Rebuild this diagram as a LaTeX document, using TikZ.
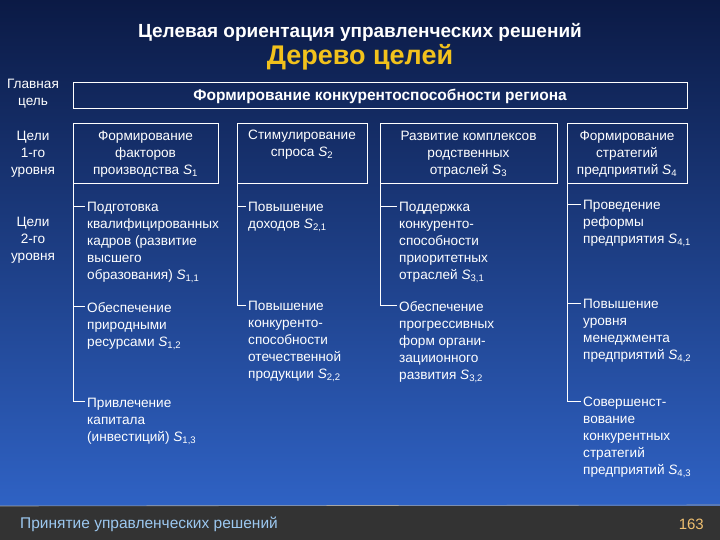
\documentclass[tikz,border=0pt]{standalone}
\usepackage{fontspec}
\setmainfont{Liberation Sans}
\definecolor{bgtop}{HTML}{0B1A45}
\definecolor{bgbot}{HTML}{2F62C4}
\definecolor{ttl}{HTML}{F2C21C}
\definecolor{foot}{HTML}{333333}
\definecolor{num}{HTML}{F0C070}
\definecolor{foottext}{HTML}{9CC8F0}
\newcommand{\Sv}[1]{\textit{S}\textsubscript{#1}}
\begin{document}
\begin{tikzpicture}[x=1pt,y=-1pt,
  every node/.style={text=white,font=\fontsize{13.6}{17}\selectfont,inner sep=0pt},
  box/.style={draw=white,line width=0.8pt},
  item/.style={anchor=north west,align=left,yshift=-4pt},
  lbl/.style={align=center},
  conn/.style={draw=white,line width=0.8pt}]
\useasboundingbox (0,0) rectangle (720,540);
\shade[top color=bgtop,bottom color=bgbot] (0,0) rectangle (720,506);
\fill[foot] (0,506) rectangle (720,540);
\draw[gray!70,line width=0.6pt] (0,506) -- (720,505);
\node (t1) at (360,32) {\fontsize{19}{22}\selectfont\bfseries Целевая ориентация управленческих решений};
\node[text=ttl] (t2) at (360,57) {\fontsize{27}{30}\selectfont\bfseries Дерево целей};
\node[lbl] (l0) at (33,94) {Главная\\цель};
\node[lbl] (l1) at (33,154) {Цели\\1-го\\уровня};
\node[lbl] (l2) at (33,240) {Цели\\2-го\\уровня};
\draw[box] (73,82) rectangle (687,108);
\node (main) at (380,96) {\fontsize{15.5}{18}\selectfont\bfseries Формирование конкурентоспособности региона};
\draw[box] (73,123) rectangle (218,183);
\draw[box] (237,123) rectangle (367,183);
\draw[box] (380,123) rectangle (557,183);
\draw[box] (567,123) rectangle (687,183);
\node[lbl] (s1) at (145.5,154) {Формирование\\факторов\\производства \Sv{1}};
\node[lbl] (s2) at (302,145) {Стимулирование\\спроса \Sv{2}};
\node[lbl] (s3) at (468.5,154) {Развитие комплексов\\родственных\\отраслей \Sv{3}};
\node[lbl] (s4) at (627,154) {Формирование\\стратегий\\предприятий \Sv{4}};
% col1
\coordinate (c1) at (73,183);
\node[item] (s11) at (87,198) {Подготовка\\квалифицированных\\кадров (развитие\\высшего\\образования) \Sv{1,1}};
\node[item] (s12) at (87,298) {Обеспечение\\природными\\ресурсами \Sv{1,2}};
\node[item] (s13) at (87,394) {Привлечение\\капитала\\(инвестиций) \Sv{1,3}};
\draw[conn] (c1) -- (73,401) -- ([xshift=-2pt]s13.north west |- 0,401);
\draw[conn] (73,206) -- ([xshift=-2pt]s11.north west |- 0,206);
\draw[conn] (73,306) -- ([xshift=-2pt]s12.north west |- 0,306);
% col2
\coordinate (c2) at (237,183);
\node[item] (s21) at (248,198) {Повышение\\доходов \Sv{2,1}};
\node[item] (s22) at (248,297) {Повышение\\конкуренто-\\способности\\отечественной\\продукции \Sv{2,2}};
\draw[conn] (c2) -- (237,305) -- ([xshift=-2pt]s22.north west |- 0,305);
\draw[conn] (237,206) -- ([xshift=-2pt]s21.north west |- 0,206);
% col3
\coordinate (c3) at (380,183);
\node[item] (s31) at (399,198) {Поддержка\\конкуренто-\\способности\\приоритетных\\отраслей \Sv{3,1}};
\node[item] (s32) at (399,297) {Обеспечение\\прогрессивных\\форм органи-\\зациионного\\развития \Sv{3,2}};
\draw[conn] (c3) -- (380,305) -- ([xshift=-2pt]s32.north west |- 0,305);
\draw[conn] (380,206) -- ([xshift=-2pt]s31.north west |- 0,206);
% col4
\coordinate (c4) at (567,183);
\node[item] (s41) at (583,196) {Проведение\\реформы\\предприятия \Sv{4,1}};
\node[item] (s42) at (583,295) {Повышение\\уровня\\менеджмента\\предприятий \Sv{4,2}};
\node[item] (s43) at (583,393) {Совершенст-\\вование\\конкурентных\\стратегий\\предприятий \Sv{4,3}};
\draw[conn] (c4) -- (567,401) -- ([xshift=-2pt]s43.north west |- 0,401);
\draw[conn] (567,204) -- ([xshift=-2pt]s41.north west |- 0,204);
\draw[conn] (567,303) -- ([xshift=-2pt]s42.north west |- 0,303);
\node[anchor=west,text=foottext] (ft) at (20,524) {\fontsize{15.5}{18}\selectfont Принятие управленческих решений};
\node[anchor=east,text=num] (pg) at (704,524) {\fontsize{15}{18}\selectfont 163};
\end{tikzpicture}
\end{document}
